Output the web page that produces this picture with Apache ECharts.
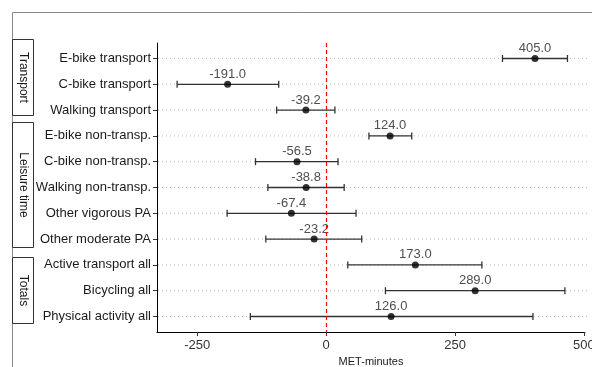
<!DOCTYPE html>
<html>
<head>
<meta charset="utf-8">
<script src="https://cdn.jsdelivr.net/npm/echarts@6/dist/echarts.min.js"></script>
<style>
  html, body { margin: 0; padding: 0; background: #fff; }
  #chart { width: 592px; height: 367px; }
</style>
</head>
<body>
<div id="chart"></div>
<script>
// rows, top to bottom
var categories = [
  'E-bike transport', 'C-bike transport', 'Walking transport',
  'E-bike non-transp.', 'C-bike non-transp.', 'Walking non-transp.',
  'Other vigorous PA', 'Other moderate PA',
  'Active transport all', 'Bicycling all', 'Physical activity all'
]
var estimates = [405.0, -191.0, -39.2, 124.0, -56.5, -38.8, -67.4, -23.2, 173.0, 289.0, 126.0]
var lower = [342, -289, -96, 83, -137, -113, -192, -117, 42, 115, -147]
var upper = [468, -92, 17, 166, 23, 35, 58, 69, 302, 463, 401]
var xTicks = [-250, 0, 250, 500]
var groups = ['Transport', 'Leisure time', 'Totals']

var rowIdx = categories.map(function (c, i) { return i })

var chart = echarts.init(document.getElementById('chart'))

var barData = categories.map(function (c, i) {
  return [i, lower[i], upper[i]]
})
var pointData = categories.map(function (c, i) {
  return [estimates[i], i]
})

function renderBar(params, api) {
  var i = api.value(0)
  var lo = api.coord([api.value(1), i])
  var hi = api.coord([api.value(2), i])
  var cs = params.coordSys
  var style = { stroke: '#333', lineWidth: 1.3 }
  return {
    type: 'group',
    children: [
      {
        type: 'line',
        z2: 0,
        shape: { x1: cs.x + 1, y1: lo[1], x2: cs.x + cs.width + 3, y2: lo[1] },
        style: { stroke: '#bbb', lineWidth: 1, lineDash: [1, 3] }
      },
      { type: 'line', z2: 1, shape: { x1: lo[0], y1: lo[1], x2: hi[0], y2: hi[1] }, style: style },
      { type: 'line', z2: 1, shape: { x1: lo[0], y1: lo[1] - 3.5, x2: lo[0], y2: lo[1] + 3.5 }, style: style },
      { type: 'line', z2: 1, shape: { x1: hi[0], y1: hi[1] - 3.5, x2: hi[0], y2: hi[1] + 3.5 }, style: style }
    ]
  }
}

function stripBox(y1, y2, label) {
  return [
    {
      type: 'rect',
      shape: { x: 12.5, y: y1, width: 21, height: y2 - y1 },
      style: { fill: '#fff', stroke: '#333', lineWidth: 1 }
    },
    {
      type: 'text',
      x: 23,
      y: (y1 + y2) / 2,
      rotation: -Math.PI / 2,
      style: {
        text: label,
        fill: '#1a1a1a',
        font: '12px "Liberation Sans", Arial, sans-serif',
        align: 'center',
        verticalAlign: 'middle'
      }
    }
  ]
}

chart.setOption({
  animation: false,
  grid: { left: 157, right: 7, top: 43, bottom: 35, outerBoundsMode: 'none', containLabel: false },
  xAxis: {
    type: 'value',
    min: -328,
    max: 502,
    name: 'MET-minutes',
    nameLocation: 'middle',
    nameGap: 24,
    nameTextStyle: { fontSize: 11, color: '#1a1a1a', fontFamily: 'Liberation Sans' },
    axisLine: { show: true, onZero: false, lineStyle: { color: '#000', width: 1 } },
    axisTick: { show: true, length: 4, customValues: xTicks, lineStyle: { color: '#333' } },
    axisLabel: {
      customValues: xTicks,
      fontSize: 13,
      color: '#333',
      margin: 7,
      fontFamily: 'Liberation Sans'
    },
    splitLine: { show: false }
  },
  yAxis: {
    type: 'value',
    inverse: true,
    min: -0.6,
    max: 10.6,
    axisLine: { show: true, onZero: false, lineStyle: { color: '#000', width: 1 } },
    axisTick: { show: true, length: 4, customValues: rowIdx, lineStyle: { color: '#333' } },
    axisLabel: {
      customValues: rowIdx,
      fontSize: 13,
      color: '#1a1a1a',
      margin: 6,
      fontFamily: 'Liberation Sans',
      formatter: function (v) { return categories[Math.round(v)] || '' }
    },
    splitLine: { show: false }
  },
  series: [
    {
      type: 'custom',
      renderItem: renderBar,
      encode: { x: [1, 2], y: 0 },
      data: barData,
      z: 1
    },
    {
      type: 'scatter',
      data: pointData,
      symbolSize: 7,
      itemStyle: { color: '#000' },
      label: {
        show: true,
        position: 'top',
        distance: 0,
        fontSize: 13,
        color: '#222',
        fontFamily: 'Liberation Sans',
        formatter: function (p) { return p.value[0].toFixed(1) }
      },
      markLine: {
        silent: true,
        symbol: 'none',
        label: { show: false },
        lineStyle: { color: '#ff0000', type: [4, 3], width: 1.2 },
        data: [{ xAxis: 0 }]
      },
      z: 3
    }
  ],
  graphic: [
    {
      type: 'polyline',
      shape: { points: [[12.5, 367], [12.5, 12.5], [592, 12.5]] },
      style: { stroke: '#888', lineWidth: 1, fill: null }
    }
  ].concat(stripBox(39.5, 115.5, groups[0]))
   .concat(stripBox(122.5, 247.5, groups[1]))
   .concat(stripBox(257.5, 323.5, groups[2]))
})
</script>
</body>
</html>
